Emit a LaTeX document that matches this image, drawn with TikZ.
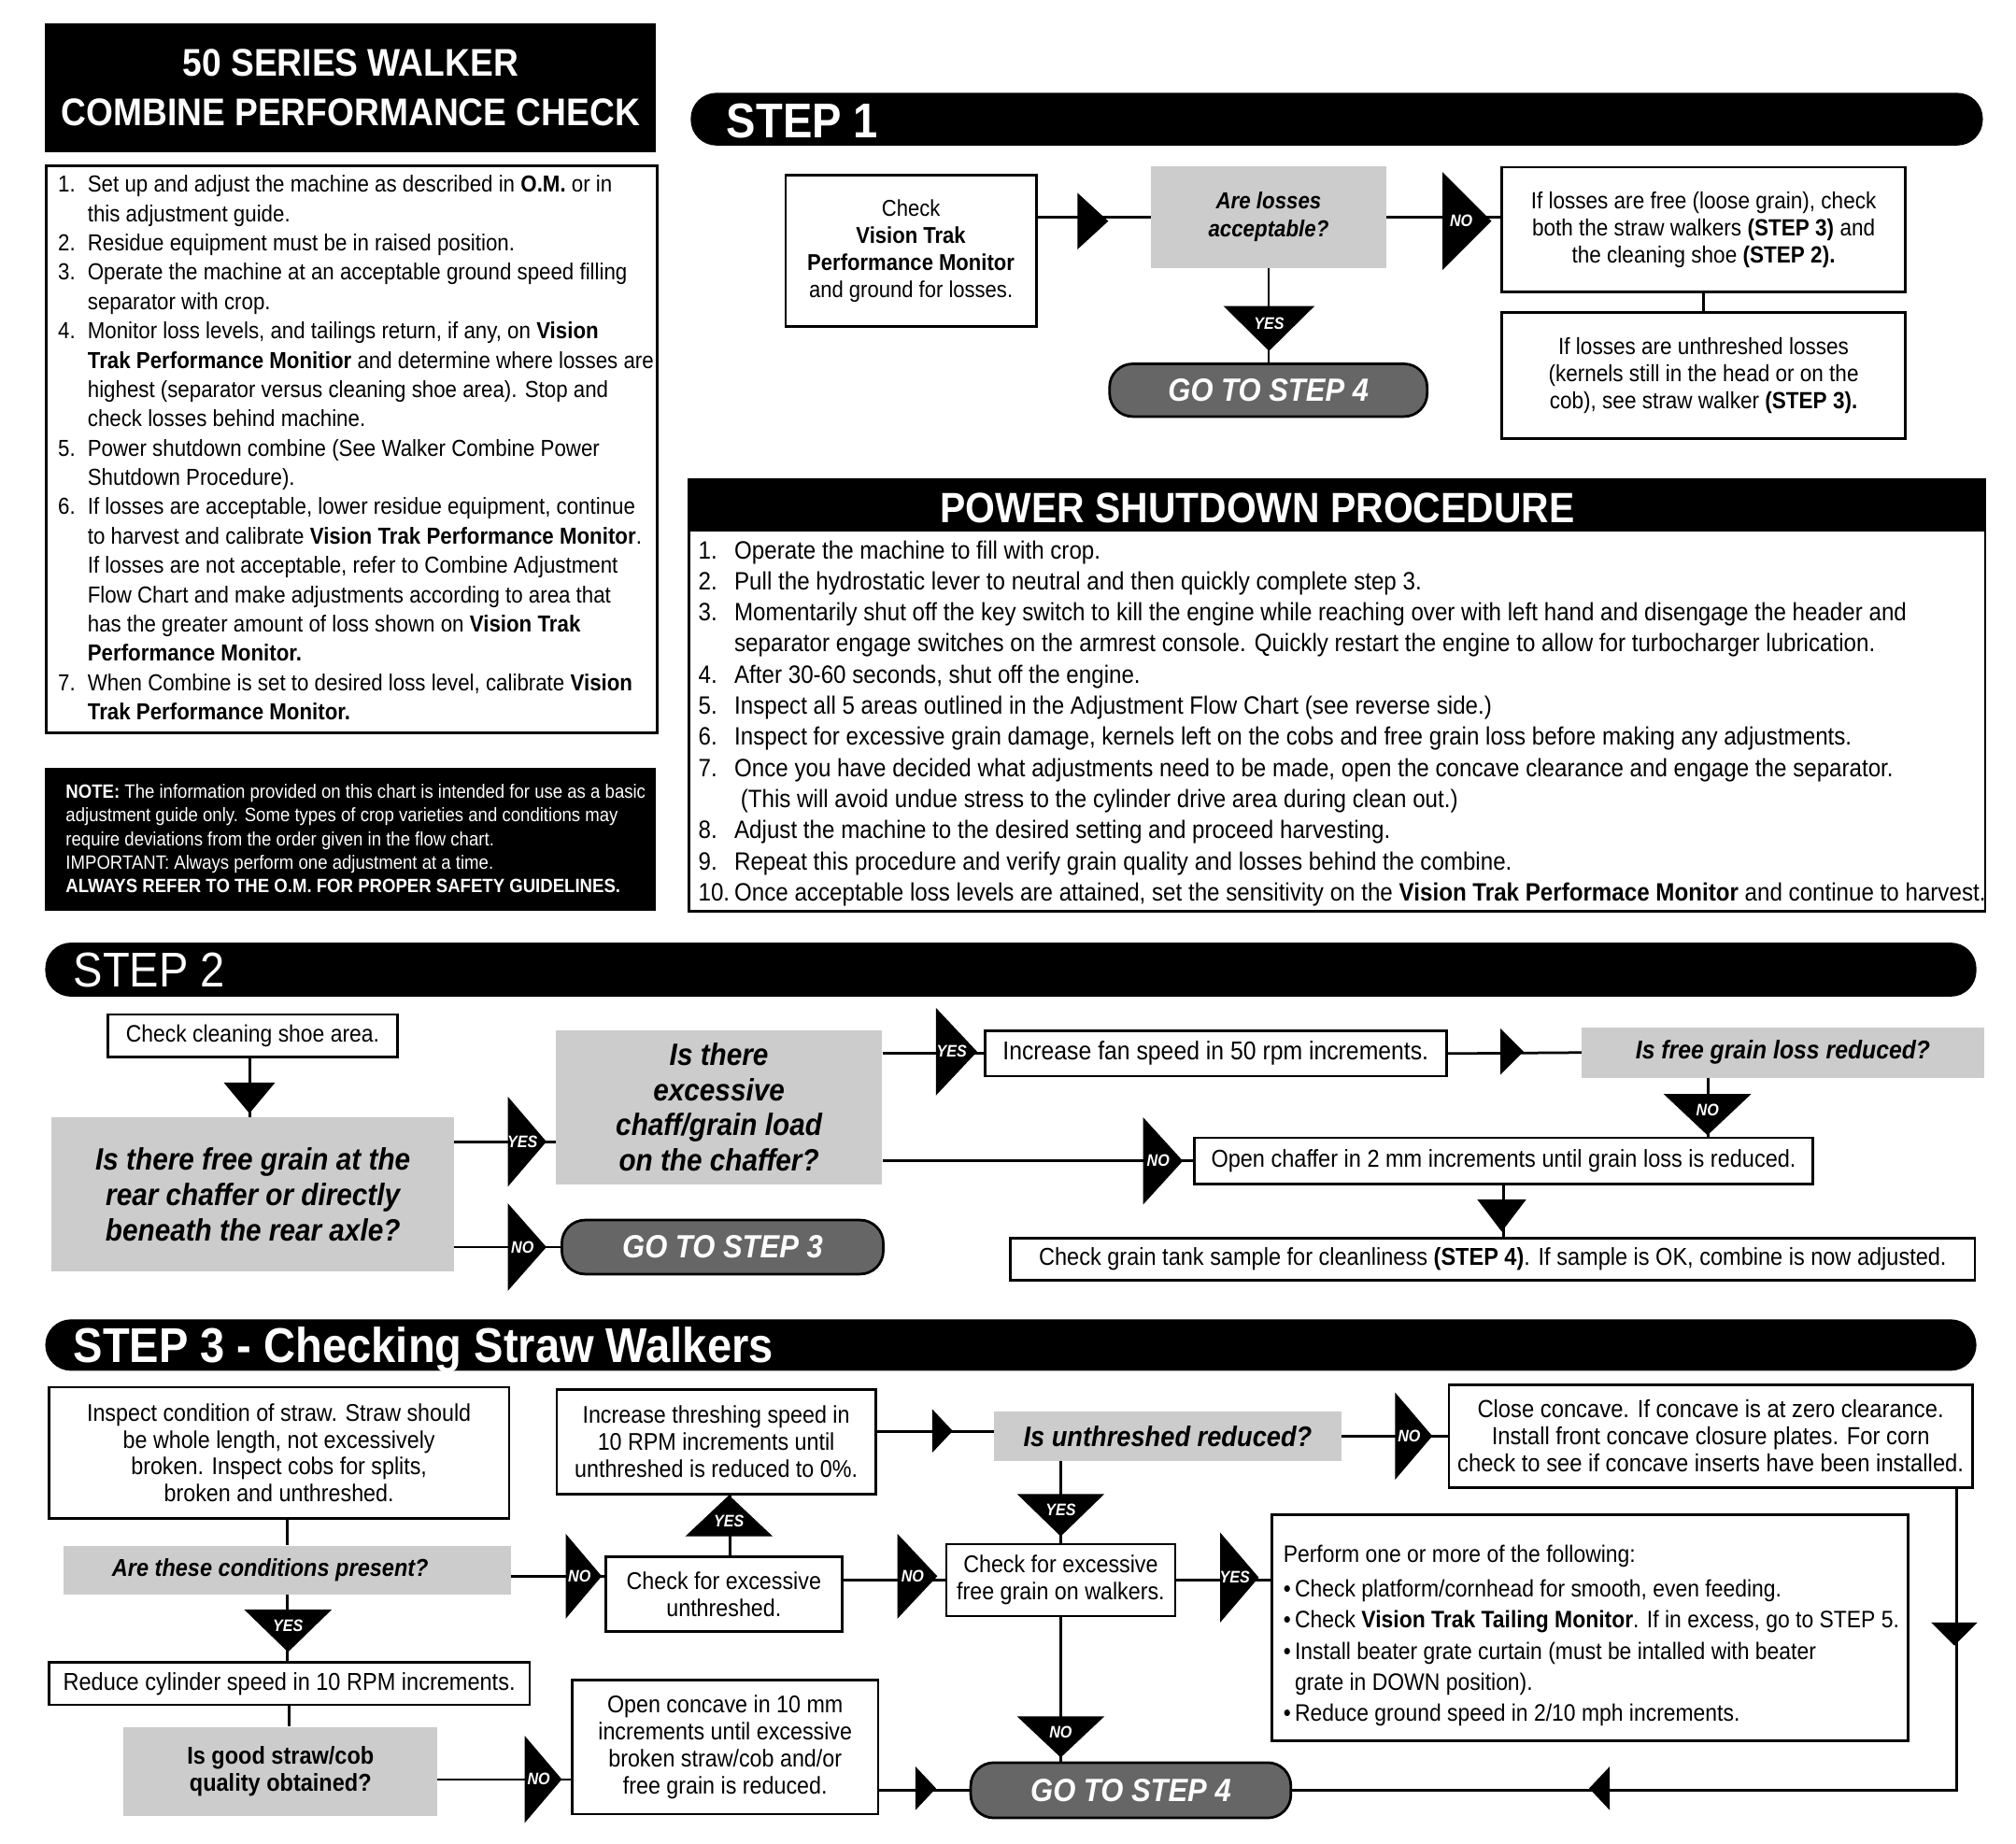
\documentclass[tikz,border=0pt]{standalone}
\usepackage{fontspec}
\setmainfont{Liberation Sans}[FakeStretch=0.9]
\usetikzlibrary{calc}
\newcommand\fsz[2]{\fontsize{#1}{#2}\selectfont}
\newcommand\Li[1]{\makebox[23pt][l]{#1}}
\newcommand\Lc{\hspace*{23pt}}
\newcommand\PSi[1]{\makebox[28pt][l]{#1}}
\newcommand\PSc{\hspace*{28pt}}
\tikzset{
  bx/.style={draw, line width=2pt, fill=white, inner sep=0pt, align=center, anchor=north west, font=\fsz{18.8}{21}},
  gbx/.style={fill=black!20, inner sep=0pt, align=center, anchor=north west},
  pill/.style={draw, line width=2pt, fill=black!60, rounded corners=18pt, text=white, font=\bfseries\itshape\fsz{25}{28}, inner sep=0pt, anchor=north west},
  bar/.style={fill=black, rounded corners=20pt, inner sep=0pt, anchor=north west},
  ln/.style={line width=2pt},
  trlab/.style={text=white, font=\bfseries\itshape\fsz{13}{13}, inner sep=0pt},
  bartxt/.style={text=white, anchor=base west, inner sep=0pt, font=\fsz{38}{40}},
  pics/tR/.style n args={3}{code={\fill (0,-#2) -- (#1,0) -- (0,#2) -- cycle; \node[trlab] (-l) at ({0.38*#1},0) {#3};}},
  pics/tL/.style n args={3}{code={\fill (0,-#2) -- (-#1,0) -- (0,#2) -- cycle; \node[trlab] (-l) at ({-0.38*#1},0) {#3};}},
  pics/tD/.style n args={3}{code={\fill (-#2,0) -- (#2,0) -- (0,#1) -- cycle; \node[trlab] (-l) at (0,{0.38*#1}) {#3};}},
  pics/tU/.style n args={3}{code={\fill (-#2,0) -- (#2,0) -- (0,-#1) -- cycle; \node[trlab] (-l) at (0,{-0.38*#1}) {#3};}},
}
\begin{document}
\begin{tikzpicture}[x=1pt, y=-1pt]
\useasboundingbox (0,0) rectangle (1568,1434);

% ---------- Title & list ----------
\node[fill=black, inner sep=0pt, anchor=north west, minimum width=475, minimum height=100, text=white, align=center, font=\bfseries\fsz{30}{39}] (title) at (35,18) {50 SERIES WALKER\\COMBINE PERFORMANCE CHECK};
\node[draw, line width=2pt, inner sep=0pt, anchor=north west, minimum width=475, minimum height=441] (lst) at (35,128) {};
\node[anchor=base west, inner sep=0pt, align=left, font=\fsz{18}{22.8}] (lsttxt) at (45,559.9) {%
\Li{1.}Set up and adjust the machine as described in \textbf{O.M.} or in\\
\Lc this adjustment guide.\\
\Li{2.}Residue equipment must be in raised position.\\
\Li{3.}Operate the machine at an acceptable ground speed filling\\
\Lc separator with crop.\\
\Li{4.}Monitor loss levels, and tailings return, if any, on \textbf{Vision}\\
\Lc\textbf{Trak Performance Monitior} and determine where losses are\\
\Lc highest (separator versus cleaning shoe area). Stop and\\
\Lc check losses behind machine.\\
\Li{5.}Power shutdown combine (See Walker Combine Power\\
\Lc Shutdown Procedure).\\
\Li{6.}If losses are acceptable, lower residue equipment, continue\\
\Lc to harvest and calibrate \textbf{Vision Trak Performance Monitor}.\\
\Lc If losses are not acceptable, refer to Combine Adjustment\\
\Lc Flow Chart and make adjustments according to area that\\
\Lc has the greater amount of loss shown on \textbf{Vision Trak}\\
\Lc\textbf{Performance Monitor.}\\
\Li{7.}When Combine is set to desired loss level, calibrate \textbf{Vision}\\
\Lc\textbf{Trak Performance Monitor.}};

\node[fill=black, inner sep=0pt, anchor=north west, minimum width=475, minimum height=111] (note) at (35,597) {};
\node[anchor=base west, inner sep=0pt, align=left, text=white, font=\fsz{15}{18.3}] (notetxt) at (51,694.2) {%
\textbf{NOTE:} The information provided on this chart is intended for use as a basic\\
adjustment guide only. Some types of crop varieties and conditions may\\
require deviations from the order given in the flow chart.\\
IMPORTANT: Always perform one adjustment at a time.\\
\textbf{ALWAYS REFER TO THE O.M. FOR PROPER SAFETY GUIDELINES.}};

% ---------- STEP 1 ----------
\node[bar, minimum width=1005, minimum height=41] (bar1) at (537,72) {};
\node[bartxt, font=\bfseries\fsz{38}{40}] (bar1t) at (565,107) {STEP 1};

\node[bx, minimum width=195, minimum height=118, font=\fsz{17.8}{21}] (chk) at (610,135) {Check\\\textbf{Vision Trak}\\\textbf{Performance Monitor}\\and ground for losses.};
\node[gbx, minimum width=183, minimum height=79, font=\bfseries\itshape\fsz{18}{22}] (q1) at (895,129) {Are losses\\acceptable?};
\node[bx, minimum width=314, minimum height=97, font=\fsz{18.2}{21}] (r1) at (1167,129) {If losses are free (loose grain), check\\both the straw walkers \textbf{(STEP 3)} and\\the cleaning shoe \textbf{(STEP 2).}};
\node[bx, minimum width=314, minimum height=98, font=\fsz{18.2}{21}] (r2) at (1167,242) {If losses are unthreshed losses\\(kernels still in the head or on the\\cob), see straw walker \textbf{(STEP 3).}};
\node[pill, minimum width=247, minimum height=41] (go1) at (862,282) {GO TO STEP 4};

\draw[ln] (q1.west -| chk.east) -- (q1.west);
\pic (a1) at (838,172) {tR={24}{22}{}};
\draw[ln] (q1.east) -- (q1.east -| r1.west);
\pic (a2) at (1122,172) {tR={38}{38}{NO}};
\draw[ln] (r1.south) -- (r2.north);
\draw[ln] (q1.south) -- (q1.south |- go1.north);
\pic (a3) at (987,238) {tD={35}{35.5}{YES}};

% ---------- POWER SHUTDOWN ----------
\node[draw, line width=2pt, inner sep=0pt, anchor=north west, minimum width=1008, minimum height=336] (ps) at (535,372) {};
\node[fill=black, inner sep=0pt, anchor=north west, minimum width=1008, minimum height=41] (pshead) at (535,372) {};
\node[text=white, inner sep=0pt, font=\bfseries\fsz{33}{35}] (psheadt) at (978,395) {POWER SHUTDOWN PROCEDURE};
\node[anchor=base west, inner sep=0pt, align=left, font=\fsz{19.5}{24.2}] (pstxt) at (543,700.7) {%
\PSi{1.}Operate the machine to fill with crop.\\
\PSi{2.}Pull the hydrostatic lever to neutral and then quickly complete step 3.\\
\PSi{3.}Momentarily shut off the key switch to kill the engine while reaching over with left hand and disengage the header and\\
\PSc separator engage switches on the armrest console. Quickly restart the engine to allow for turbocharger lubrication.\\
\PSi{4.}After 30-60 seconds, shut off the engine.\\
\PSi{5.}Inspect all 5 areas outlined in the Adjustment Flow Chart (see reverse side.)\\
\PSi{6.}Inspect for excessive grain damage, kernels left on the cobs and free grain loss before making any adjustments.\\
\PSi{7.}Once you have decided what adjustments need to be made, open the concave clearance and engage the separator.\\
\PSc\ (This will avoid undue stress to the cylinder drive area during clean out.)\\
\PSi{8.}Adjust the machine to the desired setting and proceed harvesting.\\
\PSi{9.}Repeat this procedure and verify grain quality and losses behind the combine.\\
\PSi{10.}Once acceptable loss levels are attained, set the sensitivity on the \textbf{Vision Trak Performace Monitor} and continue to harvest.};

% ---------- STEP 2 ----------
\node[bar, minimum width=1502, minimum height=42] (bar2) at (35,733) {};
\node[bartxt] (bar2t) at (57,767.5) {STEP 2};

\node[bx, minimum width=225, minimum height=33, font=\fsz{18.5}{21}] (c2) at (83,788) {Check cleaning shoe area.};
\node[gbx, minimum width=313, minimum height=120, font=\bfseries\itshape\fsz{24}{27.5}] (q2) at (40,869) {Is there free grain at the\\rear chaffer or directly\\beneath the rear axle?};
\node[gbx, minimum width=254, minimum height=120, font=\bfseries\itshape\fsz{24}{27.5}] (q3) at (432,801) {Is there\\excessive\\chaff/grain load\\on the chaffer?};
\node[pill, minimum width=250, minimum height=42] (go2) at (436,948) {GO TO STEP 3};
\node[bx, minimum width=359, minimum height=35, font=\fsz{20}{21}] (fan) at (765,801) {Increase fan speed in 50 rpm increments.};
\node[gbx, minimum width=313, minimum height=39, font=\bfseries\itshape\fsz{20}{22}] (q4) at (1230,799) {Is free grain loss reduced?};
\node[bx, minimum width=481, minimum height=36, font=\fsz{19}{21}] (chf) at (928,884) {Open chaffer in 2 mm increments until grain loss is reduced.};
\node[bx, minimum width=750, minimum height=33, font=\fsz{19}{21}] (tank) at (785,962) {Check grain tank sample for cleanliness \textbf{(STEP 4)}. If sample is OK, combine is now adjusted.};

\draw[ln] ([xshift=-2]c2.south) -- ([xshift=-2]c2.south |- q2.north);
\pic (b1) at (194,842) {tD={24}{20}{}};
\draw[ln] ([yshift=41]q2.east) -- ([yshift=41]q2.east -| q3.west);
\pic (b2) at (395,888) {tR={30}{35}{YES}};
\draw[ln] (go2.west -| q2.east) -- (go2.west);
\pic (b3) at (395,970) {tR={30}{34}{NO}};
\draw[ln] (fan.west -| q3.east) -- (fan.west);
\pic (b4) at (728,818) {tR={32}{34}{YES}};
\draw[ln] (fan.east) -- (q4.west);
\pic (b5) at (1167,818) {tR={18}{18}{}};
\draw[ln] ([xshift=-58]q4.south) -- ([xshift=-58]q4.south |- chf.north);
\pic (b6) at (1328,851) {tD={32}{34}{NO}};
\draw[ln] (chf.west -| q3.east) -- (chf.west);
\pic (b7) at (889,903) {tR={31}{34}{NO}};
\draw[ln] (chf.south) -- (chf.south |- tank.north);
\pic (b8) at (1168,933) {tD={25}{19}{}};

% ---------- STEP 3 ----------
\node[bar, minimum width=1502, minimum height=40] (bar3) at (35,1026) {};
\node[bartxt, font=\bfseries\fsz{38}{40}] (bar3t) at (57,1060) {STEP 3 - Checking Straw Walkers};

\node[bx, minimum width=358, minimum height=102] (ins) at (37,1078) {Inspect condition of straw. Straw should\\be whole length, not excessively\\broken. Inspect cobs for splits,\\broken and unthreshed.};
\node[gbx, minimum width=348, minimum height=38, font=\bfseries\itshape\fsz{19}{21}] (q5) at (49,1202) {Are these conditions present?\hspace*{26pt}};
\node[bx, minimum width=374, minimum height=33, font=\fsz{19}{21}] (red) at (37,1292) {Reduce cylinder speed in 10 RPM increments.};
\node[gbx, minimum width=244, minimum height=69, font=\bfseries\fsz{19}{21}] (q6) at (96,1343) {Is good straw/cob\\quality obtained?};
\node[bx, minimum width=238, minimum height=104] (opn) at (444,1306) {Open concave in 10 mm\\increments until excessive\\broken straw/cob and/or\\free grain is reduced.};
\node[pill, minimum width=249, minimum height=43] (go3) at (754,1370) {GO TO STEP 4};
\node[bx, minimum width=184, minimum height=58] (unt) at (470,1210) {Check for excessive\\unthreshed.};
\node[bx, minimum width=248, minimum height=81] (thr) at (432,1080) {Increase threshing speed in\\10 RPM increments until\\unthreshed is reduced to 0\%.};
\node[gbx, minimum width=270, minimum height=38, font=\bfseries\itshape\fsz{22}{24}] (q7) at (773,1098) {Is unthreshed reduced?};
\node[bx, minimum width=407, minimum height=80, font=\fsz{19.2}{21}] (cls) at (1126,1076) {Close concave. If concave is at zero clearance.\\Install front concave closure plates. For corn\\check to see if concave inserts have been installed.};
\node[bx, minimum width=178, minimum height=56] (fre) at (735,1200) {Check for excessive\\free grain on walkers.};
\node[bx, minimum width=495, minimum height=176] (prf) at (988,1177) {};
\node[anchor=base west, inner sep=0pt, align=left, font=\fsz{18.5}{24.2}] (prftxt) at (998,1339) {%
Perform one or more of the following:\\[2.5pt]
\textbullet\,Check platform/cornhead for smooth, even feeding.\\
\textbullet\,Check \textbf{Vision Trak Tailing Monitor}. If in excess, go to STEP 5.\\
\textbullet\,Install beater grate curtain (must be intalled with beater\\
\phantom{\textbullet\,}grate in DOWN position).\\
\textbullet\,Reduce ground speed in 2/10 mph increments.};

\draw[ln] (q5.north |- ins.south) -- (q5.north);
\draw[ln] (q5.south) -- (q5.south |- red.north);
\pic (c1) at (224,1252) {tD={33}{34}{YES}};
\draw[ln] (red.south) -- (red.south |- q6.north);
\draw[ln] ([yshift=-6.5]q6.east) -- ([yshift=-6.5]q6.east -| opn.west);
\pic (c2t) at (408,1384) {tR={29}{34}{NO}};
\draw[ln] (go3.west -| opn.east) -- (go3.west);
\pic (c3) at (712,1391) {tR={16}{17}{}};
\draw[ln] ([yshift=-5]q5.east) -- ([yshift=-5]q5.east -| unt.west);
\pic (c4) at (440,1226) {tR={28}{33}{NO}};
\draw[ln] ([xshift=5]unt.north) -- ([xshift=5]unt.north |- thr.south);
\pic (c5) at (567,1195) {tU={32}{34}{YES}};
\draw[ln] ([yshift=8]thr.east) -- ([yshift=8]thr.east -| q7.west);
\pic (c6) at (725,1113) {tR={16}{17}{}};
\draw[ln] (q7.east) -- (q7.east -| cls.west);
\pic (c7) at (1085,1117) {tR={29}{34}{NO}};
\draw[ln] (fre.north |- q7.south) -- (fre.north);
\pic (c8) at (825,1162) {tD={33}{34}{YES}};
\draw[ln] (fre.west -| unt.east) -- (fre.west);
\pic (c9) at (698,1226) {tR={31}{33}{NO}};
\draw[ln] (fre.east) -- (fre.east -| prf.west);
\pic (c10) at (949,1227) {tR={30}{35}{YES}};
\draw[ln] (fre.south) -- (fre.south |- go3.north);
\pic (c11) at (825,1335) {tD={32}{34}{NO}};
\draw[ln] ([xshift=-13]cls.south east) |- (go3.east);
\pic (c12) at (1520,1262) {tD={18}{18}{}};
\pic (c13) at (1252,1391) {tL={16}{17}{}};
\end{tikzpicture}
\end{document}
